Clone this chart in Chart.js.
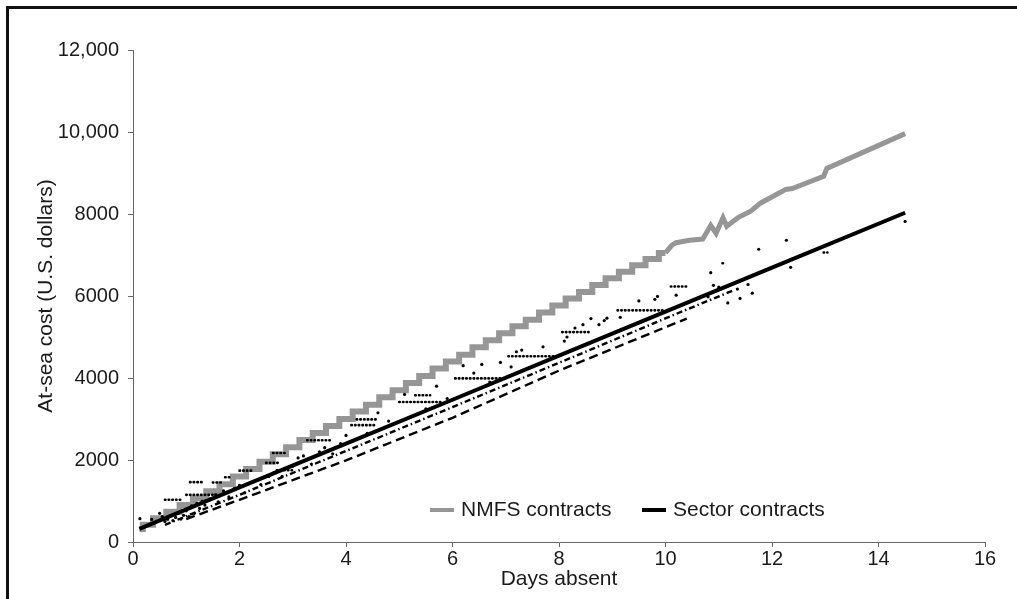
<!DOCTYPE html>
<html>
<head>
<meta charset="utf-8">
<script src="https://cdn.jsdelivr.net/npm/chart.js@4.4.1/dist/chart.umd.min.js"></script>
<style>
html,body{margin:0;padding:0;background:#fff;}
#wrap{position:relative;width:1017px;height:599px;overflow:hidden;}
#frame{position:absolute;left:6px;top:6px;width:1100px;height:700px;border-top:3px solid #111;border-left:3px solid #111;}
canvas{position:absolute;left:0;top:0;}
</style>
</head>
<body>
<div id="wrap"><div id="frame"></div><canvas id="chart" width="1017" height="599"></canvas></div>
<script>
// axis ticks
const xTicks = [0, 2, 4, 6, 8, 10, 12, 14, 16];
const yTicks = [0, 2000, 4000, 6000, 8000, 10000, 12000];

// NMFS contracts - stair part (days, cost)
const nmfsStepDays = [0.12, 0.25, 0.5, 0.75, 1.0, 1.25, 1.5, 1.75, 2.0, 2.25, 2.5, 2.75, 3.0, 3.25, 3.5, 3.75, 4.0, 4.25, 4.5, 4.75, 5.0, 5.25, 5.5, 5.75, 6.0, 6.25, 6.5, 6.75, 7.0, 7.25, 7.5, 7.75, 8.0, 8.25, 8.5, 8.75, 9.0, 9.25, 9.5, 9.75, 10.0];
const nmfsStepCost = [320, 420, 580, 740, 900, 1070, 1240, 1410, 1600, 1780, 1960, 2140, 2310, 2490, 2660, 2830, 3000, 3180, 3350, 3530, 3700, 3880, 4050, 4230, 4400, 4570, 4750, 4920, 5090, 5260, 5420, 5600, 5770, 5940, 6100, 6270, 6430, 6590, 6750, 6900, 7050];
// NMFS contracts - tail
const nmfsTailDays = [10.0, 10.12, 10.2, 10.45, 10.7, 10.85, 10.95, 11.08, 11.15, 11.37, 11.6, 11.79, 12.26, 12.38, 12.97, 13.03, 14.5];
const nmfsTailCost = [7050, 7240, 7300, 7360, 7390, 7720, 7530, 7910, 7700, 7920, 8070, 8270, 8600, 8620, 8920, 9110, 9960];

// Sector contracts
const sectorDays = [0.12, 2, 4, 6, 8, 10, 12, 14.5];
const sectorCost = [320, 1330, 2400, 3470, 4545, 5620, 6690, 8030];

// dashed lines under the sector line
const dashADays = [0.6, 2, 4, 6, 8, 10.4, 11.3];
const dashACost = [420, 1150, 2220, 3290, 4370, 5670, 6150];
const dashBDays = [1.0, 2, 4, 6, 8, 10.4];
const dashBCost = [560, 1030, 1990, 3030, 4180, 5450];

// horizontal rows of dots
const runStart = [0.60, 1.00, 1.07, 1.50, 1.73, 2.00, 2.50, 2.63, 2.70, 3.27, 4.10, 4.20, 5.00, 5.30, 6.05, 7.05, 8.06, 9.10, 10.10, 11.07, 12.97];
const runEnd   = [0.90, 1.60, 1.30, 1.70, 1.82, 2.25, 2.75, 2.90, 3.00, 3.70, 4.58, 4.60, 5.83, 5.58, 6.90, 7.93, 8.59, 9.96, 10.43, 11.13, 13.04];
const runCost  = [1030, 1150, 1460, 1450, 1580, 1740, 1930, 2170, 1750, 2480, 2850, 2990, 3415, 3580, 3990, 4530, 5120, 5650, 6230, 6800, 7060];

// loose dots
const dotDays = [0.13, 0.35, 0.5, 0.55, 0.6, 0.65, 0.7, 0.75, 0.8, 0.85, 0.9, 0.95, 1.0, 1.05, 1.1, 1.15, 1.2, 1.25, 1.3, 1.35, 1.45, 1.55, 1.6, 1.7, 1.8, 1.9, 2.0, 2.1, 2.3, 2.4, 2.55, 2.65, 2.8, 3.0, 3.1, 3.2, 3.35, 3.5, 3.6, 3.75, 3.9, 4.0, 4.2, 4.4, 4.6, 4.8, 5.1, 5.5, 5.7, 5.9, 6.2, 6.4, 6.55, 6.7, 6.9, 7.1, 7.2, 7.3, 7.7, 8.1, 8.15, 8.3, 8.45, 8.6, 8.75, 8.85, 8.9, 9.15, 9.5, 9.8, 9.85, 10.2, 10.8, 10.85, 10.9, 11.0, 11.17, 11.35, 11.4, 11.55, 11.63, 11.75, 12.27, 12.35, 14.5];
const dotCost = [570, 550, 700, 620, 500, 560, 640, 520, 600, 700, 560, 650, 760, 620, 880, 700, 950, 820, 1000, 900, 1050, 1150, 980, 1250, 1100, 1300, 1380, 1200, 1500, 1400, 1600, 1700, 1600, 1850, 2050, 2100, 1900, 2200, 2300, 2150, 2400, 2600, 2500, 2650, 3150, 2950, 3600, 3250, 3800, 3500, 4300, 4120, 4330, 3900, 4380, 4270, 4640, 4680, 4760, 4900, 5000, 5220, 5300, 5450, 5300, 5400, 5460, 5480, 5880, 5920, 5990, 6020, 5980, 6570, 6260, 6220, 5830, 6170, 5940, 6280, 6070, 7140, 7360, 6700, 7820];

const FONT = '"Liberation Sans", Arial, Helvetica, sans-serif';
const TXT = '#1a1a1a';

function pairs(xs, ys) {
  return xs.map((x, i) => ({x: x, y: ys[i]}));
}

const runData = [];
runStart.forEach((s, i) => {
  runData.push({x: s, y: runCost[i]}, {x: runEnd[i], y: runCost[i]}, {x: runEnd[i], y: null});
});

const legendPlugin = {
  id: 'insideLegend',
  afterDraw(chart) {
    const {ctx, chartArea} = chart;
    const y = chartArea.bottom - 32;
    const items = [['NMFS contracts', '#969696', 297], ['Sector contracts', '#000', 509]];
    ctx.save();
    ctx.font = '21px ' + FONT;
    ctx.textBaseline = 'middle';
    ctx.fillStyle = TXT;
    items.forEach(([label, color, off]) => {
      const x = chartArea.left + off;
      ctx.strokeStyle = color;
      ctx.lineWidth = 4;
      ctx.beginPath();
      ctx.moveTo(x, y);
      ctx.lineTo(x + 24, y);
      ctx.stroke();
      ctx.fillText(label, x + 31, y);
    });
    ctx.restore();
  }
};

new Chart(document.getElementById('chart'), {
  type: 'line',
  data: {
    datasets: [
      {label: 'Sector contracts', data: pairs(sectorDays, sectorCost), borderColor: '#000', borderWidth: 4, pointRadius: 0},
      {label: 'dots', data: pairs(dotDays, dotCost), showLine: false, pointRadius: 1.6, pointBackgroundColor: '#000', pointBorderWidth: 0},
      {label: 'rows', data: runData, borderColor: '#000', borderWidth: 2.6, borderDash: [0.5, 3.2], borderCapStyle: 'round', pointRadius: 0, spanGaps: false},
      {label: 'dashA', data: pairs(dashADays, dashACost), borderColor: '#000', borderWidth: 2.4, borderDash: [6, 3, 1.5, 3], pointRadius: 0},
      {label: 'dashB', data: pairs(dashBDays, dashBCost), borderColor: '#000', borderWidth: 2.4, borderDash: [9, 5], pointRadius: 0},
      {label: 'NMFS tail', data: pairs(nmfsTailDays, nmfsTailCost), borderColor: '#969696', borderWidth: 5, pointRadius: 0},
      {label: 'NMFS contracts', data: pairs(nmfsStepDays, nmfsStepCost), borderColor: '#969696', borderWidth: 6, stepped: 'middle', borderJoinStyle: 'miter', pointRadius: 0}
    ]
  },
  options: {
    responsive: false,
    animation: false,
    layout: {padding: {top: 50, right: 32, left: 0, bottom: 0}},
    plugins: {legend: {display: false}, tooltip: {enabled: false}},
    scales: {
      x: {
        type: 'linear', min: 0, max: 16,
        afterBuildTicks: s => { s.ticks = xTicks.map(v => ({value: v})); },
        afterFit: s => { s.height = 57; },
        ticks: {font: {family: FONT, size: 20}, color: TXT, padding: 0, maxRotation: 0},
        grid: {drawOnChartArea: false, drawTicks: true, tickLength: 5, color: '#666'},
        border: {color: '#666', width: 1},
        title: {display: true, text: 'Days absent', font: {family: FONT, size: 21}, color: TXT, padding: {top: 0, bottom: 7}}
      },
      y: {
        min: 0, max: 12000,
        afterBuildTicks: s => { s.ticks = yTicks.map(v => ({value: v})); },
        afterFit: s => { s.width = 133; },
        ticks: {font: {family: FONT, size: 20}, color: TXT, padding: 9,
          callback: v => v >= 10000 ? v.toLocaleString('en-US') : String(v)},
        grid: {drawOnChartArea: false, drawTicks: true, tickLength: 5, color: '#666'},
        border: {color: '#666', width: 1},
        title: {display: true, text: 'At-sea cost (U.S. dollars)', font: {family: FONT, size: 21}, color: TXT, padding: {top: 34, bottom: 0}}
      }
    }
  },
  plugins: [legendPlugin]
});
</script>
</body>
</html>
